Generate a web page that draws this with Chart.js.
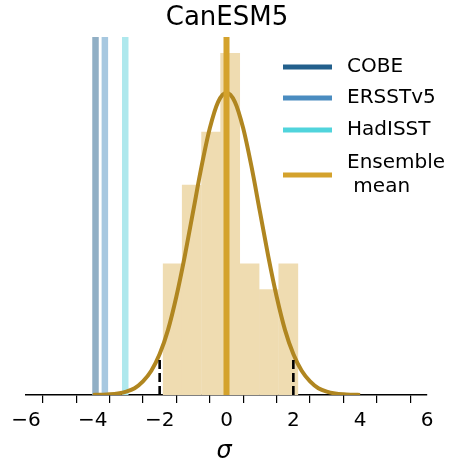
<!DOCTYPE html>
<html>
<head>
<meta charset="utf-8">
<script src="https://cdn.jsdelivr.net/npm/chart.js@4"></script>
<style>
html,body{margin:0;padding:0;background:#fff;}
#wrap{width:454px;height:465px;position:relative;}
</style>
</head>
<body>
<div id="wrap"><canvas id="c" width="454" height="465"></canvas></div>
<script>
// ---- data ----
const title = "CanESM5";
const xTickValues = [-6,-5,-4,-3,-2,-1,0,1,2,3,4,5,6];
const histCenters = [-1.61,-1.04,-0.46,0.11,0.69,1.27,1.85];
const histDensity = [0.173,0.277,0.347,0.451,0.173,0.139,0.173];
const curveX = [-4,-3.75,-3.5,-3.25,-3,-2.75,-2.5,-2.25,-2,-1.75,-1.5,-1.25,-1,-0.75,-0.5,-0.25,0,0.25,0.5,0.75,1,1.25,1.5,1.75,2,2.25,2.5,2.75,3,3.25,3.5,3.75,4];
const curveY = [0.0001,0.0004,0.0009,0.002,0.0044,0.009,0.018,0.032,0.054,0.086,0.130,0.183,0.242,0.301,0.352,0.387,0.399,0.387,0.352,0.301,0.242,0.183,0.130,0.086,0.054,0.032,0.018,0.009,0.0044,0.002,0.0009,0.0004,0.0001];
const obsNames = ["COBE","ERSSTv5","HadISST"];
const obsValues = [-3.92,-3.64,-3.03];
const ensembleMean = 0.0;
const dashedX = [-2,2];
const dashedTop = 0.048;
const yMax = 0.4725;

const obsColors = ["#23608c","#4a8cc0","#50d4dc"];
const obsFaded = ["#91afc5","#a7c8e0","#aee8ed"];
const meanColor = "#d4a22c";
const curveColor = "#b08620";
const histColor = "#efdcb1";

const datasets = [];
datasets.push({type:'bar', label:'hist', data: histCenters.map((x,i)=>({x:x,y:histDensity[i]})),
  backgroundColor: histColor, borderWidth:0, barPercentage:1, categoryPercentage:1, order:10});
obsValues.forEach((v,i)=>{
  datasets.push({type:'line', label:obsNames[i], data:[{x:v,y:0},{x:v,y:yMax}],
    borderColor:obsFaded[i], borderWidth:6.5, pointRadius:0, borderCapStyle:'butt', order:5});
});
datasets.push({type:'line', label:'fit', data: curveX.map((x,i)=>({x:x,y:curveY[i]})),
  borderColor:curveColor, borderWidth:4, pointRadius:0, cubicInterpolationMode:'monotone', order:3});
datasets.push({type:'line', label:'Ensemble mean', data:[{x:ensembleMean,y:0},{x:ensembleMean,y:yMax}],
  borderColor:meanColor, borderWidth:6, pointRadius:0, borderCapStyle:'butt', order:2});
dashedX.forEach(v=>{
  datasets.push({type:'line', label:'dash', data:[{x:v,y:0},{x:v,y:dashedTop}],
    borderColor:'#000', borderWidth:2.6, borderDash:[9,4], pointRadius:0, borderCapStyle:'butt', order:1});
});

const FONT = "'DejaVu Sans', sans-serif";
const overlay = {
  id:'overlay',
  afterDraw(chart){
    const ctx = chart.ctx;
    ctx.save();
    ctx.fillStyle = '#000';
    ctx.textAlign = 'center';
    ctx.textBaseline = 'middle';
    ctx.font = "26px " + FONT;
    ctx.fillText(title, 227, 18);
    ctx.font = "italic 24px " + FONT;
    ctx.fillText("σ", 224, 452);
    // legend
    const items = [
      {c:obsColors[0], y:67, t:["COBE"]},
      {c:obsColors[1], y:98, t:["ERSSTv5"]},
      {c:obsColors[2], y:130, t:["HadISST"]},
      {c:meanColor, y:175, t:["Ensemble"," mean"]}
    ];
    ctx.font = "20px " + FONT;
    ctx.textAlign = 'left';
    items.forEach(it=>{
      ctx.strokeStyle = it.c;
      ctx.lineWidth = 5;
      ctx.lineCap = 'butt';
      ctx.beginPath(); ctx.moveTo(283, it.y); ctx.lineTo(332, it.y); ctx.stroke();
      if (it.t.length === 1) {
        ctx.fillText(it.t[0], 347, it.y);
      } else {
        ctx.fillText(it.t[0], 347, it.y - 12);
        ctx.fillText(it.t[1], 347, it.y + 12);
      }
    });
    ctx.restore();
  }
};

new Chart(document.getElementById('c'), {
  data: { datasets: datasets },
  options: {
    responsive:false,
    animation:false,
    layout:{ padding:{left:26, right:27, top:37, bottom:0} },
    plugins:{ legend:{display:false}, title:{display:false}, tooltip:{enabled:false} },
    scales:{
      x:{ type:'linear', min:-6, max:6, offset:false,
        afterBuildTicks(scale){ scale.ticks = xTickValues.map(v=>({value:v})); },
        afterFit(scale){ scale.height = 70; },
        ticks:{ autoSkip:false, maxRotation:0, color:'#000', padding:6,
          font:{family:FONT, size:20},
          callback:(v)=> (v % 2 === 0 ? (v < 0 ? '\u2212' + Math.abs(v) : String(v)) : '') },
        grid:{ drawOnChartArea:false, drawTicks:true, tickLength:8, color:'#000', lineWidth:1.2 },
        border:{ display:true, color:'#000', width:1.5 }
      },
      y:{ type:'linear', min:0, max:yMax, display:false }
    }
  },
  plugins:[overlay]
});
</script>
</body>
</html>
